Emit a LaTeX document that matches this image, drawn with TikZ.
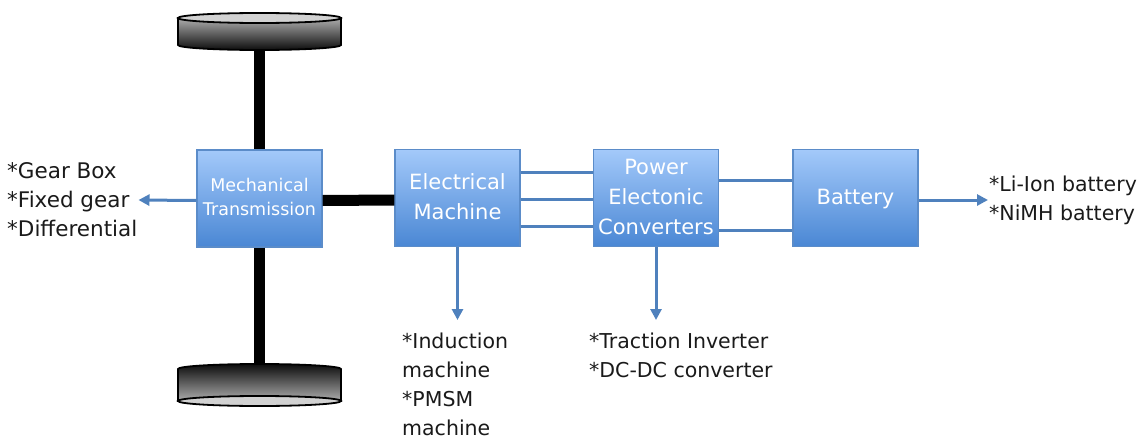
\documentclass[tikz,border=0pt]{standalone}
\usepackage{fontspec}
\setmainfont{DejaVu Sans}
\usetikzlibrary{arrows.meta}
\definecolor{boxtop}{HTML}{A3C9FA}
\definecolor{boxbot}{HTML}{4A87D4}
\definecolor{boxedge}{HTML}{5B8CC9}
\definecolor{wirecol}{HTML}{4F81BD}
\definecolor{ink}{HTML}{1A1A1A}
\definecolor{rimface}{HTML}{D2D2D2}
\newcommand{\stackedtext}[2][0pt]{\raisebox{#1}{\begin{tabular}{@{}c@{}}#2\end{tabular}}}
\tikzset{
  unitbox/.style={draw=boxedge, line width=1.3pt, top color=boxtop, bottom color=boxbot,
    minimum width=125pt, minimum height=97pt, inner sep=0pt, text=white,
    font=\fontsize{21}{30}\selectfont},
  smallbox/.style={unitbox, font=\fontsize{17.5}{24}\selectfont},
  shaft/.style={line width=11pt, black},
  wire/.style={draw=wirecol, line width=3pt},
  feed/.style={wire, -{Triangle[length=11pt,width=11pt]}},
  note/.style={text=ink, align=left, inner sep=1pt, font=\fontsize{20.5}{29}\selectfont},
  rim/.style={draw=black, line width=1.8pt},
}
\begin{document}
\begin{tikzpicture}[x=1pt,y=-1pt]
\useasboundingbox (0,0) rectangle (1144,439);

% drive-train blocks
\node[smallbox] (mt)  at (259.5,198.5) {\stackedtext{Mechanical\\Transmission}};
\node[unitbox]  (em)  at (457.5,198)   {\stackedtext{Electrical\\Machine}};
\node[unitbox]  (pec) at (656,198)     {\stackedtext[5pt]{Power\\Electonic\\Converters}};
\node[unitbox]  (bat) at (855.5,198)   {\stackedtext[-4pt]{Battery}};

% axle and coupling shaft
\coordinate (hubtop) at (259.5,45);
\coordinate (hubbot) at (259.5,370);
\draw[shaft] (hubtop) -- (mt.north);
\draw[shaft] (mt.south) -- (hubbot);
\draw[shaft] ([yshift=-2pt]mt.east) -- ([yshift=-2pt]em.west);

% electrical links
\draw[wire] ([yshift=26pt]em.east)  -- ([yshift=26pt]pec.west);
\draw[wire] ([yshift=-1pt]em.east)  -- ([yshift=-1pt]pec.west);
\draw[wire] ([yshift=-28pt]em.east) -- ([yshift=-28pt]pec.west);
\draw[wire] ([yshift=18pt]pec.east)  -- ([yshift=18pt]bat.west);
\draw[wire] ([yshift=-32pt]pec.east) -- ([yshift=-32pt]bat.west);

% top wheel
\path[rim, top color=black!32, bottom color=black!95]
  (178,18) -- (178,45) arc[start angle=180, end angle=360, x radius=81.5pt, y radius=5pt]
  -- (341,18) -- cycle;
\draw[rim, fill=rimface] (259.5,18) ellipse[x radius=81.5pt, y radius=5pt];

% bottom wheel
\path[rim, top color=black!95, bottom color=black!32]
  (178,401) -- (178,369) arc[start angle=180, end angle=0, x radius=81.5pt, y radius=5pt]
  -- (341,401) -- cycle;
\draw[rim, fill=rimface] (259.5,401) ellipse[x radius=81.5pt, y radius=5pt];

% component notes
\node[note, anchor=west, font=\fontsize{21.5}{29}\selectfont] (gears) at (6,200) {*Gear Box\\*Fixed gear\\*Differential};
\node[note, anchor=west] (cells) at (988,200) {*Li-Ion battery\\*NiMH battery};
\coordinate (emtip)  at (457.5,320);
\coordinate (pectip) at (656,320);
\node[note, anchor=north west] (motors) at (401,332) {*Induction\\machine\\*PMSM\\machine};
\node[note, anchor=north west] (inverters) at (588,332) {*Traction Inverter\\*DC-DC converter};

\draw[feed] ([yshift=-2pt]mt.west) -- (gears.east);
\draw[feed] ([yshift=-2pt]bat.east) -- (cells.west);
\draw[feed] (em.south) -- (emtip);
\draw[feed] (pec.south) -- (pectip);
\end{tikzpicture}
\end{document}
